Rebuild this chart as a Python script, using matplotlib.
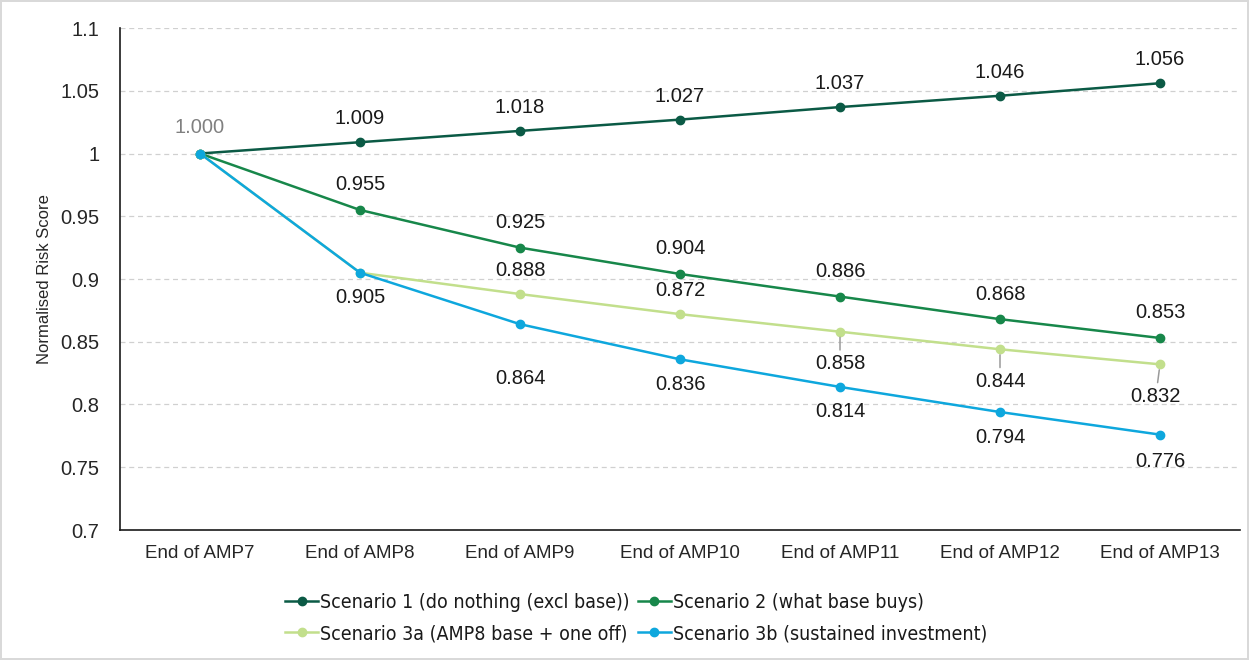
import matplotlib
matplotlib.use("Agg")
import matplotlib.pyplot as plt
import numpy as np

categories = ["End of AMP7", "End of AMP8", "End of AMP9", "End of AMP10",
              "End of AMP11", "End of AMP12", "End of AMP13"]
scenario_1 = [1.000, 1.009, 1.018, 1.027, 1.037, 1.046, 1.056]
scenario_2 = [1.000, 0.955, 0.925, 0.904, 0.886, 0.868, 0.853]
scenario_3a = [1.000, 0.905, 0.888, 0.872, 0.858, 0.844, 0.832]
scenario_3b = [1.000, 0.905, 0.864, 0.836, 0.814, 0.794, 0.776]
y_ticks = [0.7, 0.75, 0.8, 0.85, 0.9, 0.95, 1, 1.05, 1.1]
y_tick_labels = ["0.7", "0.75", "0.8", "0.85", "0.9", "0.95", "1", "1.05", "1.1"]

names = ["Scenario 1 (do nothing (excl base))", "Scenario 2 (what base buys)",
         "Scenario 3a (AMP8 base + one off)", "Scenario 3b (sustained investment)"]
colors = ["#0b5a45", "#17874a", "#c2df8c", "#0ea7dd"]

plt.rcParams["font.family"] = ["Liberation Sans", "DejaVu Sans"]

fig = plt.figure(figsize=(12.49, 6.6), dpi=100)
fig.patch.set_edgecolor("#d9d9d9")
fig.patch.set_linewidth(1.5)
ax = fig.add_axes([120 / 1249, 1 - 530 / 660, 1120 / 1249, 502 / 660])

x = np.arange(len(categories))
series = [scenario_1, scenario_2, scenario_3a, scenario_3b]
handles = []
for vals, name, col, z in zip(series, names, colors, [3, 3, 3, 4]):
    h, = ax.plot(x, vals, color=col, lw=1.8, marker="o", ms=6, label=name, zorder=z)
    handles.append(h)

ax.set_xlim(-0.5, len(categories) - 0.5)
ax.set_ylim(0.7, 1.1)
ax.set_yticks(y_ticks)
ax.set_yticklabels(y_tick_labels)
ax.set_xticks(x)
ax.set_xticklabels(categories)
ax.tick_params(axis="x", length=0, labelsize=13.5, colors="#262626", pad=11)
ax.tick_params(axis="y", length=0, labelsize=14.5, colors="#262626", pad=15)
ax.grid(axis="y", color="#d0d0d0", ls=(0, (4, 3)), lw=0.9)
ax.set_axisbelow(True)
for s in ["top", "right"]:
    ax.spines[s].set_visible(False)
for s in ["left", "bottom"]:
    ax.spines[s].set_color("#1a1a1a")
    ax.spines[s].set_linewidth(1.2)
ax.set_ylabel("Normalised Risk Score", fontsize=12, color="#262626", labelpad=6)

lab_kw = dict(textcoords="offset points", ha="center", va="center",
              fontsize=14.5, color="#1a1a1a")

# value labels: offsets in points (positive = above)
ax.annotate(f"{scenario_3b[0]:.3f}", (0, scenario_3b[0]), xytext=(0, 19),
            **{**lab_kw, "color": "#808080"})
for i in range(1, len(x)):
    ax.annotate(f"{scenario_1[i]:.3f}", (i, scenario_1[i]), xytext=(0, 17), **lab_kw)
    ax.annotate(f"{scenario_2[i]:.3f}", (i, scenario_2[i]), xytext=(0, 18), **lab_kw)

sc3b_off = [None, -18, -39, -18, -18, -18, -19]
for i in range(1, len(x)):
    ax.annotate(f"{scenario_3b[i]:.3f}", (i, scenario_3b[i]), xytext=(0, sc3b_off[i]), **lab_kw)

sc3a_off = [None, None, 17, 17, -23, -23, -23]
for i in range(2, len(x)):
    if sc3a_off[i] > 0:
        ax.annotate(f"{scenario_3a[i]:.3f}", (i, scenario_3a[i]), xytext=(0, sc3a_off[i]), **lab_kw)
    else:
        dx = -3 if i == 6 else 0
        ax.annotate(f"{scenario_3a[i]:.3f}", (i, scenario_3a[i]), xytext=(dx, sc3a_off[i]),
                    arrowprops=dict(arrowstyle="-", color="#9a9a9a", lw=1.1,
                                    shrinkA=1, shrinkB=4),
                    **lab_kw)

# legend filled row by row
order = [0, 2, 1, 3]
leg = fig.legend(handles=[handles[k] for k in order], loc="center",
                 bbox_to_anchor=(636 / 1249, 1 - 618 / 660),
                 ncol=2, frameon=False, handlelength=1.7, handletextpad=0.1,
                 columnspacing=0.4, labelspacing=0.62,
                 prop={"family": ["DejaVu Sans"], "stretch": "condensed", "size": 14})
for t in leg.get_texts():
    t.set_color("#1a1a1a")

fig.savefig("out.png", dpi=100)
